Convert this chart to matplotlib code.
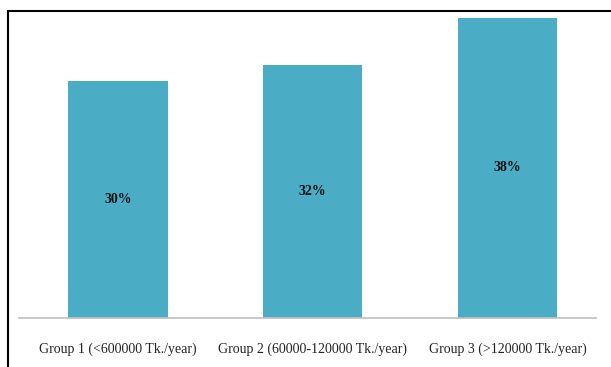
import matplotlib
matplotlib.use("Agg")
from matplotlib import pyplot as plt
from matplotlib.patches import Rectangle

# income groups and share of households
groups = ["Group 1 (<600000 Tk./year)",
          "Group 2 (60000-120000 Tk./year)",
          "Group 3 (>120000 Tk./year)"]
shares = [30, 32, 38]
labels = ["30%", "32%", "38%"]

bar_color = "#4BACC6"

plt.rcParams['font.family'] = ['Liberation Serif', 'DejaVu Serif']

fig = plt.figure(figsize=(6.11, 3.67), dpi=100)
ax = fig.add_axes([0.031, 0.1335, 0.9445, 0.8285])

x = range(len(groups))
bars = ax.bar(x, shares, width=0.51, color=bar_color)

for b, lab in zip(bars, labels):
    ax.text(b.get_x() + b.get_width() / 2, b.get_height() / 2, lab,
            ha="center", va="center", fontsize=10, color="#111111",
            fontweight="semibold")

ax.set_xlim(-0.508, 2.454)
ax.set_ylim(0, 38.5)
ax.set_xticks(list(x))
ax.set_xticklabels(groups, fontsize=10, color="#222222")
ax.tick_params(axis="x", length=0, pad=18)
ax.set_yticks([])
for s in ["top", "right", "left"]:
    ax.spines[s].set_visible(False)
ax.spines["bottom"].set_color("#bfbfbf")
ax.spines["bottom"].set_linewidth(1.2)

# outer chart frame, running off the right and bottom edge
frame = Rectangle((8 / 611, -0.2), 1.2, 1.2 - 11 / 367,
                  transform=fig.transFigure, fill=False,
                  edgecolor="black", linewidth=1.5)
fig.patches.append(frame)

fig.savefig("out.png", dpi=100)
